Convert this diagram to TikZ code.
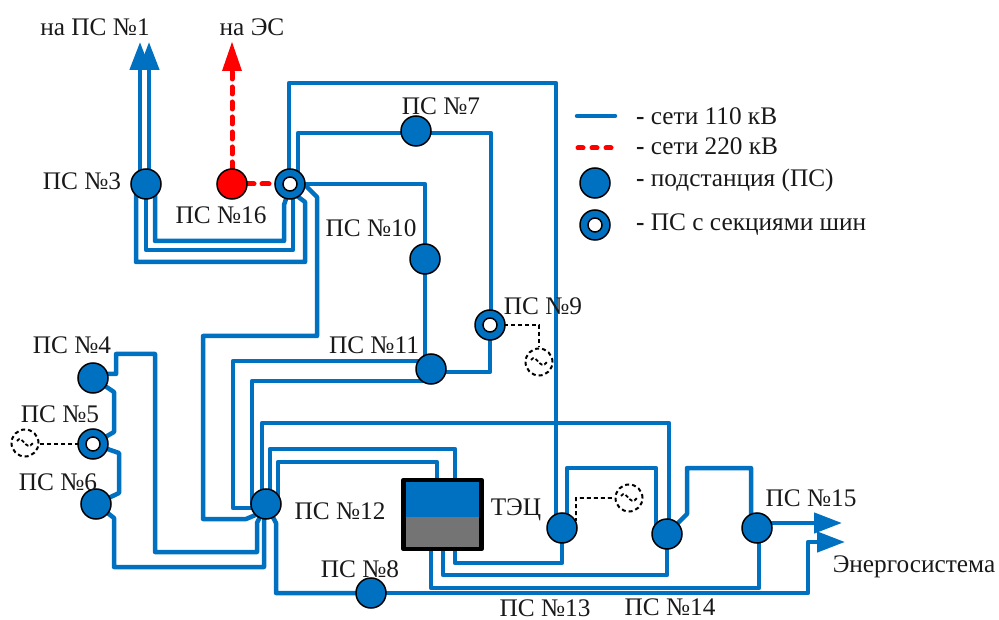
\documentclass[tikz,border=0pt]{standalone}
\usepackage{fontspec}
\setmainfont{Liberation Serif}
\usetikzlibrary{arrows.meta,backgrounds}
\definecolor{netblue}{HTML}{0070C0}
\definecolor{boxgray}{HTML}{747474}
\tikzset{
  lbl/.style={inner sep=0pt,font=\fontsize{25.3}{28}\selectfont,text=black!90},
  sub/.style={circle,draw=black,line width=1.5pt,fill=netblue,minimum size=30pt,inner sep=0pt},
  subred/.style={sub,fill=red},
  hole/.style={circle,draw=black,line width=1.5pt,fill=white,minimum size=14pt,inner sep=0pt},
  net/.style={draw=netblue,line width=4.5pt,line join=round,line cap=round},
  hv/.style={draw=red,line width=5pt,line cap=round,dash pattern=on 7pt off 8pt},
  ctl/.style={draw=black,line width=1.8pt,dash pattern=on 4pt off 3pt},
  gen/.style={circle,draw=black,line width=2pt,dash pattern=on 4pt off 3pt,minimum size=27pt,inner sep=0pt},
  bigtip/.style={-{Triangle[length=28pt,width=20pt]}}
}
\newcommand{\genwave}[1]{\draw[black,line width=1.8pt,dash pattern=on 3.5pt off 2pt] ([xshift=-8pt,yshift=2pt]#1.center) .. controls ([xshift=-3pt,yshift=10pt]#1.center) and ([xshift=1pt,yshift=-10pt]#1.center) .. ([xshift=8pt,yshift=0pt]#1.center);}
\begin{document}
\begin{tikzpicture}[x=1pt,y=-1pt]
\useasboundingbox (0,0) rectangle (999,620);
% stations
\node[sub] (p3) at (146,184) {};
\node[subred] (p16) at (232,184) {};
\node[sub] (r2) at (290,184) {};
\node[hole] (r2h) at (290,184) {};
\node[sub] (p7) at (416,131) {};
\node[sub] (p10) at (425,259) {};
\node[sub] (p9) at (490,325) {};
\node[hole] (p9h) at (490,325) {};
\node[sub] (p11) at (431,369) {};
\node[sub] (p4) at (93,378) {};
\node[sub] (p5) at (93,444) {};
\node[hole] (p5h) at (93,444) {};
\node[sub] (p6) at (96,504) {};
\node[sub] (p12) at (266,504) {};
\node[sub] (p8) at (371,593) {};
\node[sub] (p13) at (562,528) {};
\node[sub] (p14) at (667,534) {};
\node[sub] (p15) at (757,528) {};
% generators
\node[gen] (g9) at (539,362) {};
\node[gen] (g5) at (25,443) {};
\node[gen] (g13) at (629,498) {};
\genwave{g9}\genwave{g5}\genwave{g13}
% TPP
\node[minimum width=78pt,minimum height=69pt,inner sep=0pt,outer sep=0pt] (tec) at (442.5,514.5) {};
\fill[netblue] (tec.north west) rectangle (tec.east |- 0,517);
\fill[boxgray] (tec.south east) rectangle (tec.west |- 0,517);
\draw[black,line width=4.5pt,line join=round] (tec.north west) rectangle (tec.south east);
% free ends
\coordinate (a1) at (140,42);
\coordinate (a2) at (149,42);
\coordinate (aes) at (232,42);
\coordinate (aout1) at (842,523);
\coordinate (aout2) at (845,542);
\begin{pgfonlayer}{background}
% to PS 1
\draw[net,line cap=butt,bigtip] ([xshift=-6pt]p3.center) -- (a1);
\draw[net,line cap=butt,bigtip] ([xshift=3pt]p3.center) -- (a2);
\draw[hv] (p16.center) -- (232,68);
\fill[red] (aes) -- (242,71) -- (222,71) -- cycle;
\draw[hv] (p16.center) -- (r2.center);
% PS3 to ring
\draw[net] ([xshift=-10pt]p3.center) -- (136,262) -- (305,262) -- (305,202) -- ([xshift=7pt,yshift=-12pt]r2.center);
\draw[net] (p3.center) -- (146,250) -- (293,250) -- ([xshift=3pt]r2.center);
\draw[net] ([xshift=9pt]p3.center) -- (155,241) -- (284,241) -- (284,205) -- ([xshift=-3pt,yshift=-12pt]r2.center);
% ring upward
\draw[net] ([xshift=-1pt]r2.center) -- (289,83) -- (556,83) -- ([xshift=-6pt]p13.center);
\draw[net] ([xshift=8pt]r2.center) -- (298,133) -- (491,133) -- (491,325) -- (p9.center);
\draw[net] (p9.center) -- (490,372) -- ([yshift=-3pt]p11.center);
\draw[net] (r2.center) -- (425,184) -- (p10.center);
\draw[net] (p10.center) -- (425,369) -- ([xshift=-6pt]p11.center);
\draw[net] ([yshift=-1pt]r2.center) -- (305,185) -- (317,197) -- (317,336) -- (203,336) -- (203,519) -- (246,519) -- (258,514) -- (p12.center);
% PS11 to PS12
\draw[net] ([yshift=8pt]p11.center) -- (233,361) -- (233,508) -- ([yshift=-4pt]p12.center);
\draw[net] ([yshift=-12pt]p11.center) -- (252,381) -- ([xshift=-14pt]p12.center);
% PS12 upper
\draw[net] ([xshift=-4pt]p12.center) -- (262,423) -- (669,423) -- ([xshift=2pt]p14.center);
\draw[net] ([xshift=4pt]p12.center) -- (270,449) -- (455,449) -- (455,478);
\draw[net] ([xshift=12pt]p12.center) -- (278,462) -- (437,462) -- (437,478);
% left column
\draw[net] ([yshift=4pt]p4.center) -- (116,374) -- (116,354) -- (155,354) -- (155,552) -- (257,552) -- (257,523) -- (p12.center);
\draw[net] (p4.center) -- (114,392) -- (114,432) -- (p5.center);
\draw[net] (p5.center) -- (119,453) -- (119,493) -- (p6.center);
\draw[net] (p6.center) -- (114,518) -- (114,567) -- (264,567) -- ([xshift=-2pt]p12.center);
% PS12 - PS8 - out
\draw[net] (p12.center) -- (276,523) -- (276,593) -- (p8.center);
\draw[net,line cap=butt,bigtip] (p8.center) -- (808,593) -- (808,542) -- (aout2);
% box bottom
\draw[net] (455,551) -- (455,563) -- (562,563) -- (p13.center);
\draw[net] (443,551) -- (443,575) -- (667,575) -- (p14.center);
\draw[net] (431,551) -- (431,588) -- (759,588) -- ([xshift=2pt]p15.center);
% PS13-14-15
\draw[net] ([xshift=5pt]p13.center) -- (567,468) -- (656,468) -- ([xshift=-11pt]p14.center);
\draw[net] (p14.center) -- (678,523) -- (687,514) -- (687,468) -- (751,468) -- ([xshift=-6pt]p15.center);
\draw[net,line cap=butt,bigtip] ([yshift=5pt]p15.center) -- (aout1);
% control lines
\draw[ctl] (p9.center) -- (539,325) -- (g9.north);
\draw[ctl] (p5.center) -- (g5.east |- p5.center);
\draw[ctl] (p13.center) -- (576,520) -- (576,498) -- (g13.west);
\end{pgfonlayer}
% labels
\node[lbl] (t1) at (95,27) {на ПС №1};
\node[lbl] (t2) at (252,27) {на ЭС};
\node[lbl] (t3) at (82,181) {ПС №3};
\node[lbl] (t16) at (221,215) {ПС №16};
\node[lbl] (t10) at (371,228) {ПС №10};
\node[lbl] (t7) at (441,106) {ПС №7};
\node[lbl] (t9) at (543,306) {ПС №9};
\node[lbl] (t11) at (374,345) {ПС №11};
\node[lbl] (t4) at (72,345) {ПС №4};
\node[lbl] (t5) at (60,414) {ПС №5};
\node[lbl] (t6) at (58,482) {ПС №6};
\node[lbl] (t12) at (340,511) {ПС №12};
\node[lbl] (t8) at (360,569) {ПС №8};
\node[lbl] (t13) at (545,608) {ПС №13};
\node[lbl] (t14) at (670,607) {ПС №14};
\node[lbl] (t15) at (811,498) {ПС №15};
\node[lbl] (tt) at (516,510) {ТЭЦ};
\node[lbl] (te) at (914,567) {Энергосистема};
% legend
\coordinate (l1a) at (577,116); \coordinate (l1b) at (615,116);
\coordinate (l2a) at (578,148); \coordinate (l2b) at (612,148);
\draw[net] (l1a) -- (l1b);
\draw[hv,dash pattern=on 5pt off 9pt] (l2a) -- (l2b);
\node[sub] (l3) at (595,183) {};
\node[sub] (l4) at (595,225) {};
\node[hole] (l4h) at (595,225) {};
\node[lbl,anchor=west] (lt1) at (636,116) {\textbf{-} сети 110 кВ};
\node[lbl,anchor=west] (lt2) at (636,146) {\textbf{-} сети 220 кВ};
\node[lbl,anchor=west] (lt3) at (636,180) {\textbf{-} подстанция (ПС)};
\node[lbl,anchor=west] (lt4) at (636,225) {\textbf{-} ПС с секциями шин};
\end{tikzpicture}
\end{document}
